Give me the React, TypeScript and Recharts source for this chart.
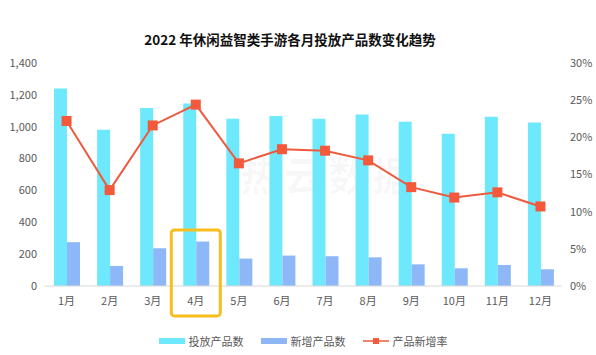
import React from "react";
import {
  ComposedChart,
  Bar,
  Line,
  XAxis,
  YAxis,
  Legend,
  ReferenceDot,
} from "recharts";

const months = ["1月", "2月", "3月", "4月", "5月", "6月", "7月", "8月", "9月", "10月", "11月", "12月"];
const launched = [1240, 981, 1118, 1145, 1050, 1067, 1050, 1077, 1031, 956, 1063, 1027];
const added = [275, 126, 237, 279, 172, 191, 187, 180, 136, 111, 132, 105];
const rate = [22.2, 12.9, 21.6, 24.4, 16.5, 18.4, 18.2, 16.9, 13.3, 11.9, 12.6, 10.7];
const leftTicks = [0, 200, 400, 600, 800, 1000, 1200, 1400];
const rightTicks = [0, 5, 10, 15, 20, 25, 30];
const seriesNames = ["投放产品数", "新增产品数", "产品新增率"];
const highlightMonth = "4月";
const highlightTop = 352;

const COLORS = { launched: "#6EE8FC", added: "#8DB7F7", rate: "#EE5A3E", dot: "#F4593C" };

const data = months.map((m, i) => ({
  month: m,
  launched: launched[i],
  added: added[i],
  rate: rate[i],
}));

const FONT = "'Microsoft YaHei', 'Noto Sans CJK SC', 'Noto Sans', sans-serif";
const tickStyle = { fontSize: 11, fill: "#595959", fontFamily: FONT };

const SquareDot = (props: any) => {
  const { cx, cy } = props;
  if (cx == null || cy == null) return null;
  return <rect x={cx - 5} y={cy - 5} width={10} height={10} fill={COLORS.dot} />;
};

const HighlightBox = (props: any) => {
  const { cx, cy } = props;
  if (cx == null || cy == null) return null;
  return (
    <rect
      x={cx - 24.5}
      y={cy}
      width={49}
      height={86}
      rx={3}
      ry={3}
      fill="none"
      stroke="#F7BE1E"
      strokeWidth={3}
    />
  );
};

const LegendContent = () => {
  const itemStyle: React.CSSProperties = {
    display: "inline-flex",
    alignItems: "center",
    marginRight: 17,
  };
  const textStyle: React.CSSProperties = { fontSize: 11, color: "#595959", marginLeft: 4 };
  return (
    <div style={{ textAlign: "center", fontFamily: FONT, lineHeight: "16px", paddingLeft: 10 }}>
      <span style={itemStyle}>
        <svg width={26} height={8}>
          <rect x={0} y={1} width={26} height={6} fill={COLORS.launched} />
        </svg>
        <span style={textStyle}>{seriesNames[0]}</span>
      </span>
      <span style={itemStyle}>
        <svg width={26} height={8}>
          <rect x={0} y={1} width={26} height={6} fill={COLORS.added} />
        </svg>
        <span style={textStyle}>{seriesNames[1]}</span>
      </span>
      <span style={{ ...itemStyle, marginRight: 0 }}>
        <svg width={26} height={8}>
          <line x1={0} y1={4} x2={26} y2={4} stroke={COLORS.rate} strokeWidth={1.5} />
          <rect x={10} y={1} width={6} height={6} fill={COLORS.dot} />
        </svg>
        <span style={textStyle}>{seriesNames[2]}</span>
      </span>
    </div>
  );
};

export default function App() {
  return (
    <div style={{ position: "absolute", left: 0, top: 0, width: 596, height: 355, background: "#fff" }}>
      <div
        style={{
          position: "absolute",
          left: 0,
          width: 580,
          top: 29,
          textAlign: "center",
          fontFamily: FONT,
          fontWeight: "bold",
          fontSize: 13.5,
          color: "#111",
        }}
      >
        2022 年休闲益智类手游各月投放产品数变化趋势
      </div>
      <div
        style={{
          position: "absolute",
          left: 240,
          top: 145,
          fontFamily: FONT,
          fontWeight: "bold",
          fontSize: 40,
          color: "rgba(0,0,0,0.03)",
          letterSpacing: 4,
        }}
      >
        热云数据
      </div>
      <ComposedChart
        width={596}
        height={355}
        data={data}
        margin={{ top: 63, right: 0, left: 0, bottom: 6 }}
        barGap={0}
      >
        <XAxis
          dataKey="month"
          tick={tickStyle}
          tickLine={false}
          axisLine={{ stroke: "#d9d9d9" }}
          tickMargin={5}
          height={44}
          interval={0}
        />
        <YAxis
          yAxisId="left"
          domain={[0, 1400]}
          ticks={leftTicks}
          tick={tickStyle}
          tickFormatter={(v: number) => v.toLocaleString("en-US")}
          tickLine={false}
          axisLine={false}
          width={45}
        />
        <YAxis
          yAxisId="right"
          orientation="right"
          domain={[0, 30]}
          ticks={rightTicks}
          tick={tickStyle}
          tickFormatter={(v: number) => `${v}%`}
          tickLine={false}
          axisLine={false}
          width={34}
        />
        <Bar yAxisId="left" dataKey="launched" name={seriesNames[0]} fill={COLORS.launched} barSize={13} isAnimationActive={false} />
        <Bar yAxisId="left" dataKey="added" name={seriesNames[1]} fill={COLORS.added} barSize={13} isAnimationActive={false} />
        <Line
          yAxisId="right"
          dataKey="rate"
          name={seriesNames[2]}
          stroke={COLORS.rate}
          strokeWidth={2}
          dot={<SquareDot />}
          activeDot={false}
          isAnimationActive={false}
        />
        <ReferenceDot
          yAxisId="left"
          x={highlightMonth}
          y={highlightTop}
          ifOverflow="visible"
          shape={<HighlightBox />}
        />
        <Legend verticalAlign="bottom" align="center" content={<LegendContent />} />
      </ComposedChart>
    </div>
  );
}
